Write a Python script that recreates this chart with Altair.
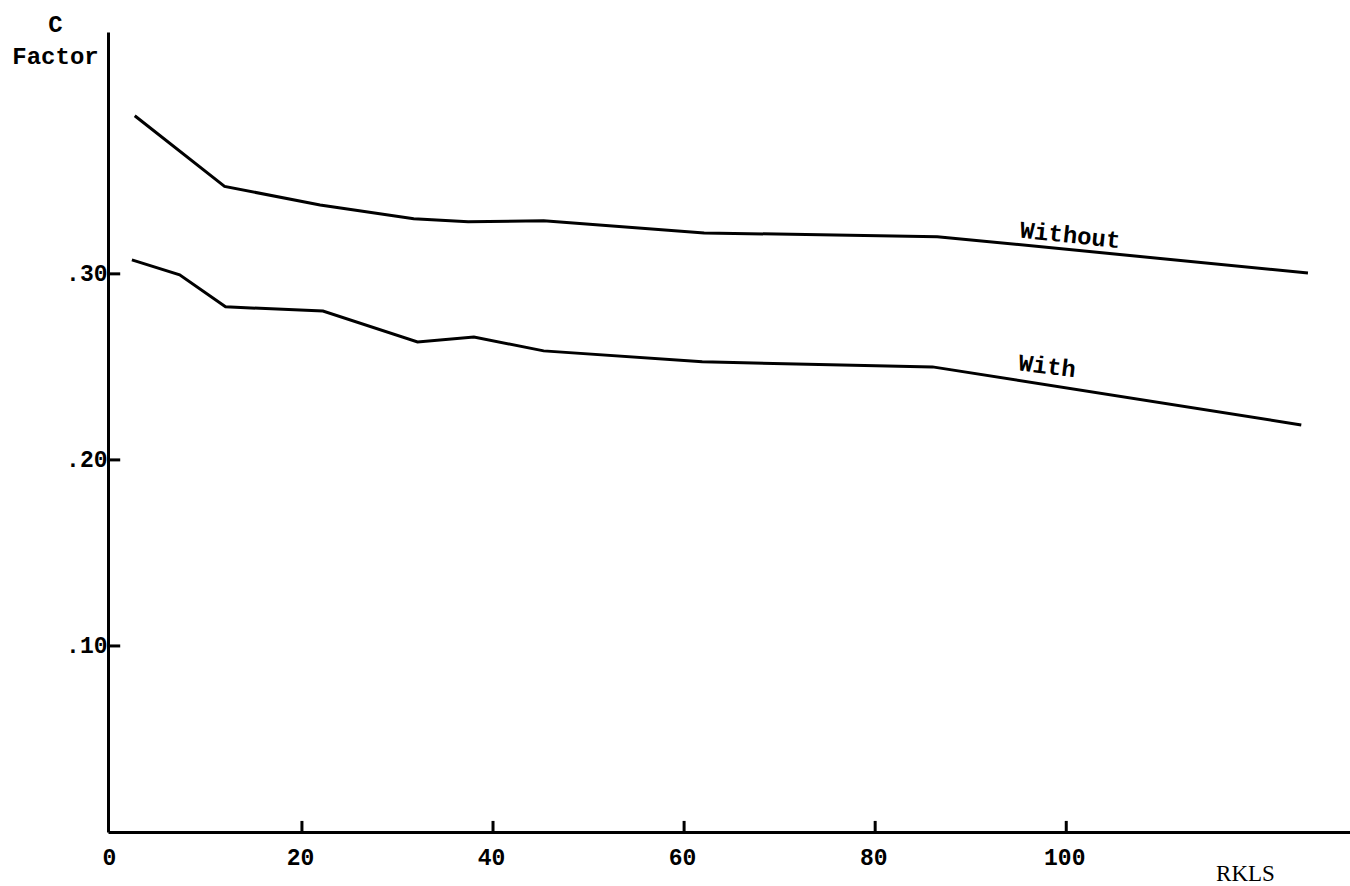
import altair as alt
import pandas as pd

# --- data ---
without_x = [2.5, 11.9, 21.9, 31.7, 37.4, 45.3, 62.1, 86.5, 125.3]
without_y = [0.385, 0.347, 0.337, 0.3296, 0.328, 0.3285, 0.322, 0.320, 0.3005]

with_x = [2.2, 7.2, 12.0, 22.2, 32.1, 38.0, 45.3, 61.9, 86.0, 124.6]
with_y = [0.3075, 0.2995, 0.2823, 0.280, 0.2634, 0.266, 0.2586, 0.2527, 0.250, 0.2188]

x_ticks = [0, 20, 40, 60, 80, 100]
x_tick_marks = [20, 40, 60, 80, 100]
y_ticks = [0.10, 0.20, 0.30]

label_text = ["Without", "With"]
label_x = [100.4, 98.0]
label_y = [0.3204, 0.250]
label_angle = [6, 7]

MONO = "Liberation Mono"

df = pd.concat([
    pd.DataFrame({"rkls": without_x, "c": without_y, "series": "Without"}),
    pd.DataFrame({"rkls": with_x, "c": with_y, "series": "With"}),
])
lab = pd.DataFrame({"t": label_text, "x": label_x, "y": label_y, "a": label_angle})

# inward tick marks (centred just inside the axes)
xt_df = pd.DataFrame({"v": x_tick_marks, "pos": [0.003] * len(x_tick_marks)})
yt_df = pd.DataFrame({"v": y_ticks, "pos": [0.35] * len(y_ticks)})

xscale = alt.Scale(domain=[-0.3, 129.7], nice=False, zero=False)
yscale = alt.Scale(domain=[0, 0.43], nice=False)

lines = alt.Chart(df).mark_line(color="black", strokeWidth=3).encode(
    x=alt.X("rkls:Q", scale=xscale,
            axis=alt.Axis(values=x_ticks, title="RKLS", tickSize=0, grid=False,
                          domainColor="black", domainWidth=3,
                          labelFont=MONO, labelFontSize=23, labelFontWeight="bold",
                          labelColor="black", labelPadding=14, labelFlush=False,
                          labelOffset=-2,
                          titleFont="Liberation Serif", titleFontSize=23,
                          titleFontWeight="normal", titleColor="black",
                          titleAnchor="start", titleAlign="center",
                          titleX=1137, titleY=41, titleBaseline="middle")),
    y=alt.Y("c:Q", scale=yscale,
            axis=alt.Axis(values=y_ticks, title=["C", "Factor"], tickSize=0, grid=False,
                          labelExpr="substring(format(datum.value, '.2f'), 1)",
                          domainColor="black", domainWidth=3,
                          labelFont=MONO, labelFontSize=23, labelFontWeight="bold",
                          labelColor="black", labelPadding=1,
                          titleFont=MONO, titleFontSize=24, titleFontWeight="bold",
                          titleColor="black", titleAngle=0, titleAlign="center",
                          titleBaseline="top", titleX=-53, titleY=-20,
                          titleLineHeight=32)),
    detail="series:N",
)

xt = alt.Chart(xt_df).mark_tick(color="black", thickness=3, size=11, opacity=1,
                                orient="vertical").encode(
    x=alt.X("v:Q", scale=xscale),
    y=alt.Y("pos:Q", scale=yscale),
)

yt = alt.Chart(yt_df).mark_tick(color="black", thickness=3, size=12, opacity=1,
                                orient="horizontal").encode(
    y=alt.Y("v:Q", scale=yscale),
    x=alt.X("pos:Q", scale=xscale),
)

texts = alt.Chart(lab).mark_text(font=MONO, fontSize=24, fontWeight="bold",
                                 color="black", align="center", baseline="middle").encode(
    x=alt.X("x:Q", scale=xscale),
    y=alt.Y("y:Q", scale=yscale),
    text="t:N",
    angle=alt.Angle("a:Q", scale=None),
)

chart = alt.layer(lines, xt, yt, texts).properties(
    width=1242, height=800,
    autosize=alt.AutoSizeParams(type="none"),
    padding={"left": 108, "top": 32, "right": 0, "bottom": 54},
    background="white",
).configure_view(stroke=None)

chart.save("out.html", embed_options={"renderer": "svg", "actions": False})
